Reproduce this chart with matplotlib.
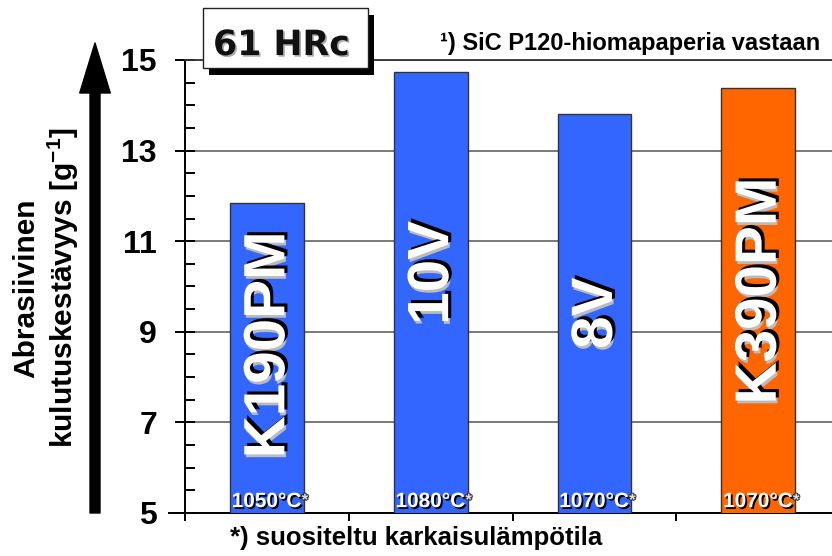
import matplotlib.pyplot as plt
import matplotlib.patheffects as pe
from matplotlib.patches import Rectangle
import numpy as np

plt.rcParams['font.family'] = 'Liberation Sans'
plt.rcParams['font.weight'] = 'bold'
plt.rcParams['mathtext.fontset'] = 'custom'
plt.rcParams['mathtext.rm'] = 'Liberation Sans:bold'
plt.rcParams['mathtext.bf'] = 'Liberation Sans:bold'

# ---------------------------------------------------------
# Data
# ---------------------------------------------------------
steels = ['K190PM', '10V', '8V', 'K390PM']
wear_resistance = [11.85, 14.74, 13.81, 14.39]
hardening_temp = ['1050°C', '1080°C', '1070°C', '1070°C']
bar_colors = ['#3366FF', '#3366FF', '#3366FF', '#FF6600']
yticks = [5, 7, 9, 11, 13, 15]

# where the rotated steel names sit inside the bars (layout only)
name_y = [8.71, 10.3, 9.41, 9.9]

fig = plt.figure(figsize=(8.32, 5.56), dpi=100)
ax = fig.add_axes([185 / 832, 43 / 556, 1 - 185 / 832, (513 - 60) / 556])

x = np.arange(len(steels))
bars = ax.bar(x, wear_resistance, width=0.45, bottom=0, color=bar_colors,
              edgecolor='#333333', linewidth=1, zorder=3)

ax.set_ylim(5, 15)
ax.set_xlim(-0.5, 3.45)
ax.set_yticks(yticks)
ax.set_yticks(np.arange(5, 15.01, 0.5), minor=True)
ax.set_xticks([-0.5, 0.5, 1.5, 2.5])
ax.set_xticklabels([])
ax.tick_params(axis='y', which='major', direction='inout', length=14.4, width=1.4,
               pad=13, labelsize=23)
ax.tick_params(axis='y', which='minor', direction='in', length=7, width=1.4)
ax.tick_params(axis='x', which='major', direction='out', length=6, width=1.4)
for lab in ax.get_yticklabels():
    lab.set_fontweight('bold')

ax.grid(axis='y', which='major', color='#555555', linewidth=1.1, zorder=0)
ax.spines['right'].set_visible(False)
ax.spines['top'].set_color('#333333')
ax.spines['top'].set_linewidth(1.3)
ax.spines['left'].set_linewidth(1.4)
ax.spines['bottom'].set_linewidth(1.4)
ax.spines['bottom'].set_bounds(-0.6, 3.45)

# steel names, rotated, white with embossed shadow
name_fx = [pe.SimplePatchShadow(offset=(1.2, -2.0), shadow_rgbFace='#bbbbbb', alpha=1),
           pe.SimplePatchShadow(offset=(2.2, 2.2), shadow_rgbFace='black', alpha=1),
           pe.Normal()]
for xi, name, ny in zip(x, steels, name_y):
    ax.text(xi + 0.015, ny, name, rotation=90, ha='center', va='center',
            fontsize=42, fontweight='bold', color='white', zorder=5,
            path_effects=name_fx)

# hardening temperatures at the foot of the bars
temp_fx = [pe.SimplePatchShadow(offset=(1.3, -1.3), shadow_rgbFace='black', alpha=1),
           pe.Normal()]
for xi, t in zip(x, hardening_temp):
    txt = ax.text(xi - 0.215, 5.13, t, ha='left', va='baseline', fontsize=15,
                  fontweight='bold', color='white', zorder=5, path_effects=temp_fx)
    ax.annotate('*', xy=(1.0, 0.55), xycoords=txt, ha='left', va='center',
                fontsize=12, color='#dddddd', zorder=5,
                path_effects=[pe.withStroke(linewidth=1.5, foreground='#333333')])

# y label
fig.text(46.5 / 832, 1 - 288 / 556, 'Abrasiivinen\nkulutuskestävyys [g$^{-1}$]',
         rotation=90, ha='center', va='center', multialignment='center',
         fontsize=21.5, fontweight='bold', linespacing=1.2)

# big arrow next to the y label
ax.annotate('', xy=(95, 556 - 43), xycoords='figure pixels',
            xytext=(95, 556 - 513), textcoords='figure pixels',
            arrowprops=dict(arrowstyle='simple,head_length=3.6,head_width=2.2,tail_width=0.72',
                            mutation_scale=10, color='black', shrinkA=0, shrinkB=0),
            annotation_clip=False)

# "61 HRc" box with drop shadow
fig.add_artist(Rectangle((209 / 832, 1 - 75 / 556), 165 / 832, 60 / 556,
                         transform=fig.transFigure, facecolor='black', edgecolor='none',
                         zorder=10))
fig.add_artist(Rectangle((203 / 832, 1 - 68 / 556), 165 / 832, 60 / 556,
                         transform=fig.transFigure, facecolor='white', edgecolor='#222222',
                         linewidth=1, zorder=11))
fig.text(281.5 / 832, 1 - 55 / 556, '61 HRc', ha='center', va='baseline',
         family='DejaVu Sans', fontsize=25, fontweight='bold', color='#111111', zorder=12,
         path_effects=[pe.SimplePatchShadow(offset=(1.2, -1.2), shadow_rgbFace='#aaaaaa', alpha=1),
                       pe.Normal()])

# footnotes
fig.text(820 / 832, 1 - 50 / 556, '¹) SiC P120-hiomapaperia vastaan', ha='right',
         va='baseline', fontsize=17, fontweight='bold')
fig.text(230 / 832, 1 - 545 / 556, '*) suositeltu karkaisulämpötila', ha='left',
         va='baseline', fontsize=18.5, fontweight='bold')

fig.savefig('out.png', dpi=100)
